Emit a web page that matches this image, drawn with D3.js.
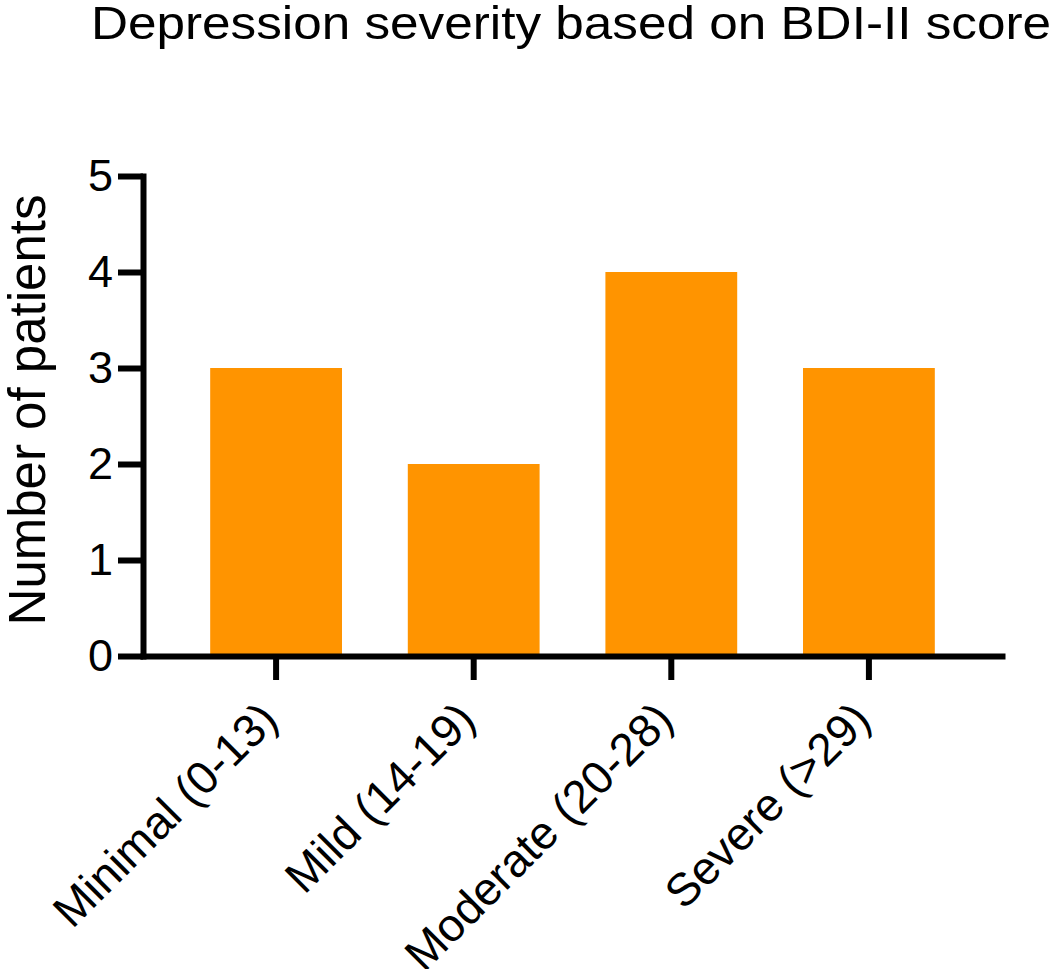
<!DOCTYPE html>
<html>
<head>
<meta charset="utf-8">
<script src="https://cdn.jsdelivr.net/npm/d3@7"></script>
<style>
  body { margin: 0; background: #fff; }
  svg { font-family: "Liberation Sans", Arial, Helvetica, sans-serif; }
</style>
</head>
<body>
<svg id="chart"></svg>
<script>
// Data
const categories = ["Minimal (0-13)", "Mild (14-19)", "Moderate (20-28)", "Severe (>29)"];
const patients = [3, 2, 4, 3];
const yTicks = [0, 1, 2, 3, 4, 5];

const width = 1057;
const height = 969;
const barColor = "#ff9400";

const svg = d3.select("#chart")
    .attr("width", width)
    .attr("height", height);

// Plot area edges
const plotLeft = 143;
const plotRight = 1002;
const plotTop = 176;
const plotBottom = 656;

const xScale = d3.scaleBand()
    .domain(categories)
    .range([plotLeft, plotRight])
    .paddingInner(0.333)
    .paddingOuter(0.34);

const yScale = d3.scaleLinear()
    .domain([0, 5])
    .range([plotBottom, plotTop]);

// Title (stretched a bit wider like the original)
svg.append("text")
    .attr("x", 91)
    .attr("y", 39)
    .attr("font-size", 46)
    .attr("textLength", 960)
    .attr("lengthAdjust", "spacingAndGlyphs")
    .attr("fill", "#000")
    .text("Depression severity based on BDI-II score");

// Bars
svg.selectAll("rect.bar")
    .data(patients)
    .enter()
    .append("rect")
    .attr("class", "bar")
    .attr("x", (d, i) => xScale(categories[i]))
    .attr("y", (d) => yScale(d))
    .attr("width", xScale.bandwidth())
    .attr("height", (d) => yScale(0) - yScale(d))
    .attr("fill", barColor);

// Y axis
const yAxis = d3.axisLeft(yScale)
    .tickValues(yTicks)
    .tickFormat(d3.format("d"))
    .tickSize(25)
    .tickSizeOuter(0)
    .tickPadding(5);

const yAxisGroup = svg.append("g")
    .attr("transform", "translate(" + plotLeft + ",0)")
    .call(yAxis);

yAxisGroup.select(".domain")
    .attr("stroke-width", 6)
    .attr("stroke-linecap", "square");
yAxisGroup.selectAll(".tick line").attr("stroke-width", 6);
yAxisGroup.selectAll(".tick text")
    .attr("font-size", 45)
    .attr("font-family", "Liberation Sans, Arial, sans-serif");

// X axis
const xAxis = d3.axisBottom(xScale)
    .tickSize(24)
    .tickSizeOuter(0)
    .tickPadding(0);

const xAxisGroup = svg.append("g")
    .attr("transform", "translate(0," + plotBottom + ")")
    .call(xAxis);

xAxisGroup.select(".domain")
    .attr("stroke-width", 6)
    .attr("stroke-linecap", "square");
xAxisGroup.selectAll(".tick line").attr("stroke-width", 6);

// Rotated category labels
xAxisGroup.selectAll(".tick text")
    .attr("font-size", 46)
    .attr("font-family", "Liberation Sans, Arial, sans-serif")
    .attr("text-anchor", "end")
    .attr("dy", null)
    .attr("y", null)
    .attr("transform", "translate(4,66) rotate(-45)");

// Y axis title
svg.append("text")
    .attr("transform", "translate(45,410) rotate(-90)")
    .attr("text-anchor", "middle")
    .attr("font-size", 51)
    .attr("fill", "#000")
    .text("Number of patients");
</script>
</body>
</html>
